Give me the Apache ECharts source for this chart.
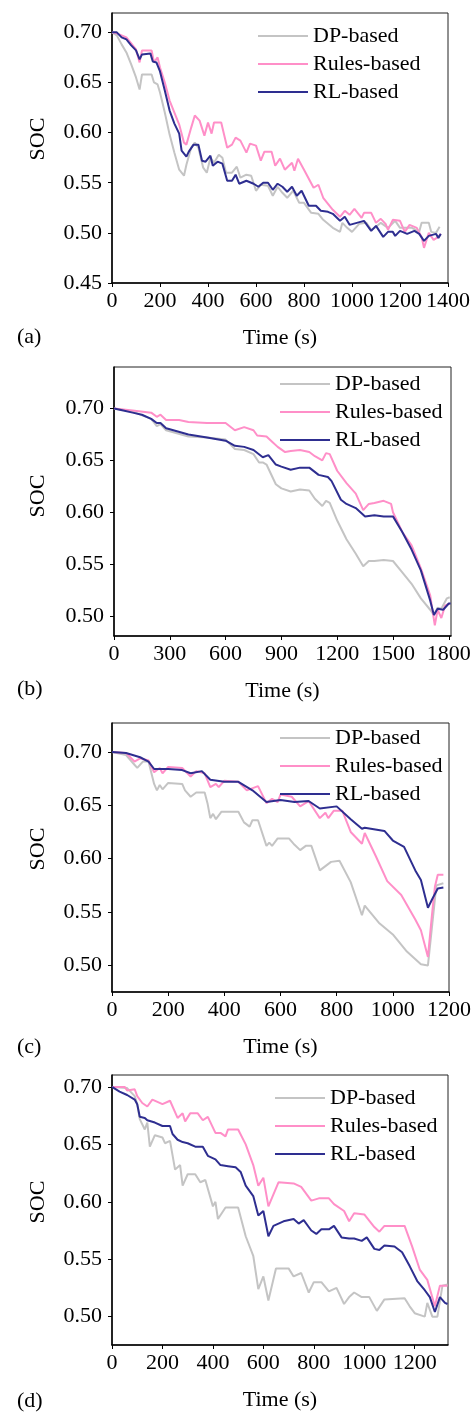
<!DOCTYPE html>
<html>
<head>
<meta charset="utf-8">
<script src="https://cdn.jsdelivr.net/npm/echarts@6/dist/echarts.min.js"></script>
<style>
html,body{margin:0;padding:0;background:#fff;}
#chart{width:476px;height:1412px;}
</style>
</head>
<body>
<div id="chart"></div>
<script>
// ---------- DATA ----------
var seriesNames = ['DP-based', 'Rules-based', 'RL-based'];
var panelLabels = ['(a)', '(b)', '(c)', '(d)'];
var xTicksA = [0, 200, 400, 600, 800, 1000, 1200, 1400];
var xTicksB = [0, 300, 600, 900, 1200, 1500, 1800];
var xTicksC = [0, 200, 400, 600, 800, 1000, 1200];
var xTicksD = [0, 200, 400, 600, 800, 1000, 1200];
var yTicksA = [0.45, 0.50, 0.55, 0.60, 0.65, 0.70];
var yTicksBCD = [0.50, 0.55, 0.60, 0.65, 0.70];

// Panel (a)
var dpA = [[0,0.700],[20,0.697],[40,0.688],[60,0.680],[80,0.668],[100,0.655],[115,0.643],[125,0.658],[165,0.658],[175,0.650],[190,0.648],[200,0.640],[220,0.620],[240,0.598],[260,0.580],[280,0.563],[300,0.557],[310,0.568],[330,0.585],[345,0.590],[360,0.585],[380,0.565],[395,0.560],[410,0.575],[425,0.570],[445,0.578],[460,0.575],[475,0.560],[500,0.560],[520,0.566],[535,0.555],[560,0.558],[580,0.557],[600,0.542],[620,0.548],[650,0.547],[670,0.537],[690,0.546],[710,0.540],[730,0.535],[755,0.542],[780,0.530],[800,0.530],[830,0.520],[860,0.519],[880,0.513],[920,0.505],[950,0.501],[960,0.510],[980,0.505],[1000,0.501],[1030,0.509],[1060,0.510],[1080,0.503],[1100,0.506],[1120,0.510],[1150,0.505],[1180,0.512],[1200,0.505],[1220,0.505],[1250,0.505],[1280,0.501],[1290,0.510],[1320,0.510],[1330,0.501],[1350,0.500],[1365,0.506]];
var rulesA = [[0,0.700],[20,0.699],[40,0.697],[60,0.695],[100,0.683],[115,0.670],[125,0.682],[165,0.682],[175,0.670],[190,0.675],[200,0.665],[220,0.650],[240,0.632],[260,0.620],[280,0.608],[300,0.590],[310,0.588],[330,0.605],[345,0.617],[365,0.612],[385,0.597],[400,0.610],[415,0.599],[425,0.610],[455,0.610],[480,0.585],[500,0.588],[515,0.595],[535,0.592],[560,0.580],[575,0.589],[600,0.587],[620,0.572],[635,0.581],[665,0.581],[680,0.567],[700,0.574],[720,0.563],[750,0.570],[760,0.562],[775,0.574],[800,0.563],[840,0.545],[860,0.548],[880,0.535],[920,0.523],[950,0.516],[970,0.522],[990,0.518],[1010,0.524],[1040,0.515],[1050,0.520],[1080,0.520],[1100,0.510],[1120,0.514],[1140,0.509],[1150,0.503],[1170,0.513],[1200,0.512],[1220,0.501],[1240,0.508],[1270,0.505],[1290,0.496],[1300,0.485],[1320,0.500],[1340,0.493],[1360,0.496],[1370,0.499]];
var rlA = [[0,0.700],[20,0.700],[40,0.695],[60,0.693],[80,0.687],[100,0.682],[115,0.673],[125,0.678],[160,0.679],[170,0.671],[185,0.670],[200,0.661],[220,0.642],[240,0.622],[260,0.609],[280,0.599],[290,0.582],[310,0.576],[320,0.581],[340,0.588],[360,0.588],[375,0.572],[390,0.571],[410,0.577],[420,0.567],[440,0.571],[460,0.569],[480,0.552],[500,0.552],[515,0.558],[530,0.549],[560,0.552],[590,0.549],[610,0.546],[630,0.550],[650,0.550],[670,0.543],[690,0.549],[710,0.546],[730,0.541],[750,0.546],[770,0.537],[790,0.542],[820,0.527],[850,0.527],[870,0.522],[900,0.521],[920,0.519],[950,0.512],[970,0.516],[990,0.508],[1020,0.510],[1050,0.512],[1080,0.502],[1100,0.507],[1130,0.496],[1150,0.501],[1170,0.501],[1180,0.497],[1200,0.502],[1230,0.499],[1260,0.502],[1280,0.499],[1300,0.492],[1320,0.497],[1350,0.499],[1360,0.495],[1370,0.499]];

// Panel (b)
var dpB = [[0,0.700],[100,0.697],[200,0.690],[230,0.683],[250,0.685],[280,0.679],[400,0.673],[500,0.672],[600,0.670],[650,0.661],[700,0.660],[750,0.656],[780,0.648],[800,0.648],[820,0.646],[870,0.627],[900,0.623],[950,0.620],[1000,0.622],[1050,0.621],[1080,0.613],[1120,0.606],[1140,0.611],[1160,0.609],[1200,0.592],[1250,0.574],[1300,0.560],[1340,0.548],[1370,0.553],[1400,0.553],[1450,0.554],[1500,0.553],[1550,0.542],[1600,0.531],[1650,0.517],[1700,0.506],[1720,0.501],[1740,0.508],[1760,0.507],[1790,0.517],[1805,0.518]];
var rulesB = [[0,0.700],[50,0.699],[100,0.698],[200,0.696],[230,0.692],[250,0.694],[280,0.689],[350,0.689],[400,0.687],[500,0.686],[600,0.686],[650,0.679],[700,0.682],[750,0.679],[770,0.674],[820,0.673],[850,0.668],[880,0.663],[920,0.658],[950,0.659],[1000,0.660],[1050,0.658],[1080,0.654],[1120,0.650],[1140,0.657],[1160,0.656],[1200,0.640],[1250,0.628],[1300,0.618],[1340,0.602],[1370,0.608],[1400,0.609],[1450,0.611],[1490,0.608],[1500,0.600],[1550,0.581],[1600,0.568],[1650,0.546],[1700,0.520],[1725,0.491],[1740,0.506],[1760,0.498],[1780,0.510],[1805,0.512]];
var rlB = [[0,0.700],[50,0.698],[100,0.696],[150,0.694],[200,0.690],[230,0.686],[250,0.686],[280,0.681],[300,0.680],[400,0.675],[500,0.672],[600,0.669],[650,0.664],[700,0.663],[750,0.660],[800,0.653],[830,0.655],[870,0.646],[900,0.644],[950,0.641],[1000,0.643],[1050,0.643],[1100,0.636],[1150,0.634],[1170,0.630],[1220,0.612],[1250,0.608],[1300,0.604],[1350,0.596],[1400,0.597],[1450,0.596],[1500,0.596],[1550,0.581],[1600,0.564],[1650,0.544],[1700,0.515],[1720,0.501],[1740,0.507],[1770,0.506],[1800,0.512],[1810,0.512]];

// Panel (c)
var dpC = [[0,0.700],[50,0.697],[60,0.694],[80,0.688],[90,0.685],[110,0.691],[130,0.691],[150,0.670],[160,0.664],[170,0.669],[180,0.665],[200,0.671],[250,0.670],[260,0.664],[280,0.658],[300,0.662],[330,0.662],[340,0.652],[350,0.638],[360,0.642],[370,0.637],[390,0.644],[450,0.644],[470,0.634],[490,0.630],[500,0.636],[520,0.636],[540,0.620],[550,0.612],[560,0.615],[570,0.612],[590,0.619],[630,0.619],[650,0.613],[670,0.608],[690,0.612],[710,0.612],[740,0.589],[760,0.593],[780,0.597],[810,0.598],[850,0.578],[890,0.547],[900,0.556],[950,0.540],[1000,0.529],[1050,0.513],[1100,0.501],[1125,0.500],[1155,0.575],[1180,0.577]];
var rulesC = [[0,0.700],[50,0.699],[80,0.691],[100,0.694],[130,0.692],[150,0.681],[170,0.685],[180,0.680],[200,0.686],[250,0.685],[280,0.677],[300,0.682],[330,0.680],[350,0.667],[370,0.670],[380,0.667],[400,0.673],[450,0.672],[480,0.664],[520,0.668],[550,0.652],[570,0.656],[590,0.653],[600,0.660],[640,0.658],[670,0.649],[700,0.654],[740,0.638],[760,0.643],[770,0.638],[790,0.645],[820,0.645],[850,0.625],[890,0.614],[900,0.624],[940,0.602],[980,0.579],[1030,0.566],[1080,0.543],[1100,0.533],[1125,0.508],[1140,0.549],[1150,0.574],[1160,0.585],[1180,0.585]];
var rlC = [[0,0.700],[50,0.699],[100,0.695],[130,0.691],[150,0.684],[200,0.684],[250,0.683],[280,0.680],[320,0.682],[350,0.674],[400,0.672],[450,0.672],[500,0.664],[550,0.653],[600,0.655],[650,0.653],[700,0.654],[740,0.647],[800,0.649],[850,0.637],[890,0.628],[900,0.629],[970,0.626],[1000,0.617],[1040,0.611],[1080,0.589],[1100,0.580],[1125,0.554],[1140,0.562],[1160,0.572],[1180,0.573]];

// Panel (d)
var dpD = [[0,0.700],[60,0.699],[90,0.692],[100,0.685],[110,0.672],[130,0.663],[140,0.669],[150,0.648],[170,0.658],[200,0.656],[210,0.651],[230,0.653],[250,0.628],[270,0.632],[280,0.614],[300,0.624],[330,0.624],[350,0.617],[370,0.619],[400,0.596],[410,0.600],[420,0.585],[450,0.595],[500,0.595],[530,0.570],[560,0.553],[580,0.524],[600,0.535],[620,0.514],[650,0.542],[700,0.542],[720,0.535],[750,0.538],[780,0.521],[800,0.530],[830,0.530],[860,0.522],[890,0.525],[920,0.511],[940,0.517],[960,0.521],[990,0.517],[1020,0.517],[1050,0.505],[1080,0.515],[1160,0.516],[1180,0.509],[1200,0.503],[1240,0.500],[1250,0.512],[1270,0.500],[1290,0.500],[1310,0.527],[1330,0.528]];
var rulesD = [[0,0.700],[50,0.700],[60,0.697],[90,0.698],[100,0.692],[120,0.686],[140,0.683],[160,0.689],[200,0.685],[230,0.688],[260,0.673],[280,0.677],[290,0.670],[310,0.677],[340,0.677],[360,0.671],[380,0.674],[410,0.660],[430,0.660],[450,0.657],[460,0.663],[500,0.663],[530,0.650],[560,0.632],[580,0.614],[600,0.621],[620,0.596],[660,0.617],[720,0.616],[750,0.613],[790,0.601],[820,0.603],[860,0.603],[880,0.598],[920,0.592],[940,0.583],[960,0.590],[1000,0.589],[1040,0.578],[1060,0.574],[1080,0.579],[1160,0.579],[1190,0.561],[1220,0.541],[1250,0.532],[1280,0.509],[1300,0.527],[1330,0.527]];
var rlD = [[0,0.700],[30,0.696],[60,0.693],[90,0.689],[100,0.685],[110,0.674],[130,0.673],[140,0.671],[170,0.669],[200,0.666],[230,0.666],[240,0.659],[260,0.654],[280,0.652],[300,0.651],[330,0.648],[360,0.648],[380,0.640],[410,0.637],[430,0.632],[460,0.631],[490,0.630],[510,0.626],[530,0.614],[560,0.605],[580,0.588],[600,0.592],[620,0.570],[640,0.579],[680,0.583],[720,0.585],[740,0.581],[760,0.584],[790,0.575],[810,0.572],[830,0.576],[860,0.576],[880,0.579],[910,0.569],[940,0.568],[960,0.568],[990,0.566],[1010,0.569],[1040,0.559],[1060,0.558],[1080,0.562],[1120,0.561],[1150,0.556],[1180,0.544],[1210,0.531],[1240,0.523],[1260,0.517],[1280,0.504],[1300,0.517],[1320,0.512],[1330,0.511]];

// ---------- STYLE / LAYOUT ----------
var FONT = '"Liberation Serif", "Times New Roman", serif';
var FS = 22;
var colors = ['#c4c4c4', '#ff8fc8', '#2e2e90'];

var panels = [
  {grid:{left:112, top:13, width:336, height:270}, xMax:1400, xTicks:xTicksA, yMin:0.45, yMax:0.7193, yTicks:yTicksA,
   data:[dpA, rulesA, rlA], legend:{left:253, top:20}, socY:139, labelY:338},
  {grid:{left:114, top:367, width:337, height:269}, xMax:1812, xTicks:xTicksB, yMin:0.4807, yMax:0.740, yTicks:yTicksBCD,
   data:[dpB, rulesB, rlB], legend:{left:275, top:368}, socY:496, labelY:690},
  {grid:{left:112, top:723, width:337, height:269}, xMax:1200, xTicks:xTicksC, yMin:0.4751, yMax:0.7271, yTicks:yTicksBCD,
   data:[dpC, rulesC, rlC], legend:{left:275, top:722}, socY:849, labelY:1048},
  {grid:{left:112, top:1075, width:336, height:271}, xMax:1332, xTicks:xTicksD, yMin:0.4753, yMax:0.7104, yTicks:yTicksBCD,
   data:[dpD, rulesD, rlD], legend:{left:270, top:1082}, socY:1202, labelY:1402}
];

var option = {
  animation: false,
  backgroundColor: '#fff',
  grid: [], xAxis: [], yAxis: [], series: [], legend: [], graphic: []
};

panels.forEach(function (p, i) {
  option.grid.push({
    left: p.grid.left, top: p.grid.top, width: p.grid.width, height: p.grid.height,
    show: true, borderColor: '#222', borderWidth: 1, backgroundColor: 'transparent'
  });
  option.xAxis.push({
    type: 'value', gridIndex: i, min: 0, max: p.xMax,
    name: 'Time (s)', nameLocation: 'middle', nameGap: 44,
    nameTextStyle: {fontFamily: FONT, fontSize: FS, color: '#000'},
    axisLine: {show: true, lineStyle: {color: '#000', width: 1.5}},
    axisTick: {show: true, length: 4, inside: false, customValues: p.xTicks, lineStyle: {color: '#000', width: 1}},
    axisLabel: {customValues: p.xTicks, fontFamily: FONT, fontSize: FS, color: '#000', margin: 7,
      formatter: function (v) { return String(Math.round(v)); }},
    splitLine: {show: false}
  });
  option.yAxis.push({
    type: 'value', gridIndex: i, min: p.yMin, max: p.yMax,
    axisLine: {show: true, lineStyle: {color: '#000', width: 1.5}},
    axisTick: {show: true, length: 4, inside: false, customValues: p.yTicks, lineStyle: {color: '#000', width: 1}},
    axisLabel: {customValues: p.yTicks, fontFamily: FONT, fontSize: FS, color: '#000', margin: 10,
      formatter: function (v) { return v.toFixed(2); }},
    splitLine: {show: false}
  });
  seriesNames.forEach(function (nm, k) {
    option.series.push({
      type: 'line', name: nm, xAxisIndex: i, yAxisIndex: i,
      data: p.data[k], showSymbol: false, symbol: 'none',
      lineStyle: {color: colors[k], width: 2}, itemStyle: {color: colors[k]},
      z: 2 + k
    });
  });
  option.legend.push({
    left: p.legend.left, top: p.legend.top, orient: 'vertical',
    data: seriesNames.map(function (nm) { return {name: nm, icon: 'rect'}; }),
    itemWidth: 50, itemHeight: 2, itemGap: 6, itemTextGap: 7,
    textStyle: {fontFamily: FONT, fontSize: FS, color: '#000', lineHeight: 22},
    selectedMode: false
  });
  option.graphic.push({
    type: 'text', left: 17, top: p.labelY - 12,
    style: {text: panelLabels[i], font: FS + 'px ' + FONT, fill: '#000'}
  });
  option.graphic.push({
    type: 'text', x: 38, y: p.socY, rotation: Math.PI / 2,
    style: {text: 'SOC', font: FS + 'px ' + FONT, fill: '#000', align: 'center', verticalAlign: 'middle'}
  });
});

var chart = echarts.init(document.getElementById('chart'), null, {renderer: 'canvas'});
chart.setOption(option);
</script>
</body>
</html>
